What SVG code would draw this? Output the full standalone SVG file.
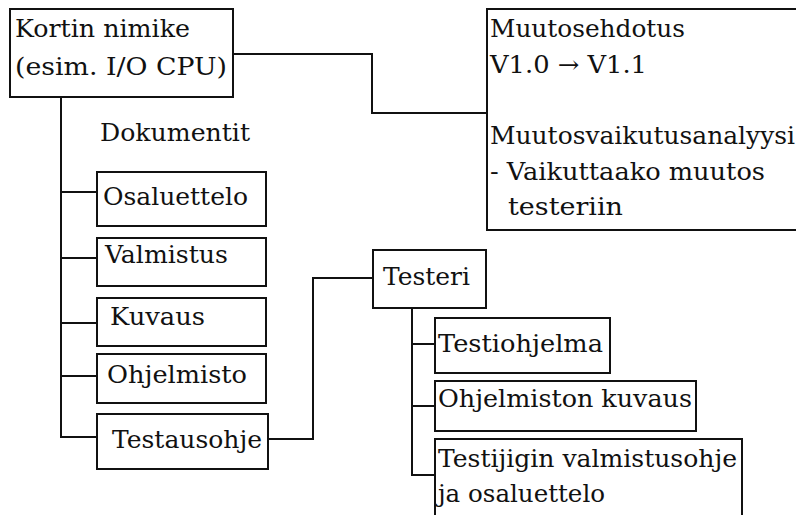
<svg xmlns="http://www.w3.org/2000/svg" width="796" height="515" viewBox="0 0 796 515">
<style>
rect{fill:#fff;stroke:#111;stroke-width:2}
.c{fill:none;stroke:#111;stroke-width:2}
text{font-family:"DejaVu Serif","Liberation Serif",serif;font-size:24px;fill:#111}
</style>
<rect x="0" y="0" width="796" height="515" style="stroke:none"/>
<g id="connectors">
<polyline class="c" points="233,54 372,54 372,113 487,113"/>
<polyline class="c" points="61,97 61,437 97,437"/>
<line class="c" x1="61" y1="192" x2="97" y2="192"/>
<line class="c" x1="61" y1="258" x2="97" y2="258"/>
<line class="c" x1="61" y1="323" x2="97" y2="323"/>
<line class="c" x1="61" y1="376" x2="97" y2="376"/>
<polyline class="c" points="268,439 313,439 313,278 373,278"/>
<polyline class="c" points="412,308 412,475 435,475"/>
<line class="c" x1="412" y1="344" x2="435" y2="344"/>
<line class="c" x1="412" y1="406" x2="435" y2="406"/>
</g>
<g id="kortin">
<rect x="10" y="9" width="223" height="88"/>
<text x="15" y="37" textLength="175" lengthAdjust="spacingAndGlyphs">Kortin nimike</text>
<text x="15" y="75" textLength="212" lengthAdjust="spacingAndGlyphs">(esim. I/O CPU)</text>
</g>
<g id="muutos">
<rect x="487" y="9" width="320" height="221"/>
<text x="490" y="37" textLength="195" lengthAdjust="spacingAndGlyphs">Muutosehdotus</text>
<text x="490" y="73" textLength="157" lengthAdjust="spacingAndGlyphs">V1.0 → V1.1</text>
<text x="490" y="144" textLength="305" lengthAdjust="spacingAndGlyphs">Muutosvaikutusanalyysi</text>
<text x="490" y="180" textLength="275" lengthAdjust="spacingAndGlyphs">- Vaikuttaako muutos</text>
<text x="508" y="215" textLength="115" lengthAdjust="spacingAndGlyphs">testeriin</text>
</g>
<g id="dokumentit">
<text x="100" y="141" textLength="150" lengthAdjust="spacingAndGlyphs">Dokumentit</text>
</g>
<g id="osaluettelo">
<rect x="97" y="172" width="169" height="54"/>
<text x="103" y="205" textLength="145" lengthAdjust="spacingAndGlyphs">Osaluettelo</text>
</g>
<g id="valmistus">
<rect x="97" y="238" width="169" height="48"/>
<text x="105" y="263" textLength="123" lengthAdjust="spacingAndGlyphs">Valmistus</text>
</g>
<g id="kuvaus">
<rect x="97" y="298" width="169" height="48"/>
<text x="110" y="325" textLength="95" lengthAdjust="spacingAndGlyphs">Kuvaus</text>
</g>
<g id="ohjelmisto">
<rect x="97" y="354" width="169" height="49"/>
<text x="107" y="383" textLength="140" lengthAdjust="spacingAndGlyphs">Ohjelmisto</text>
</g>
<g id="testausohje">
<rect x="97" y="414" width="171" height="55"/>
<text x="112" y="448" textLength="150" lengthAdjust="spacingAndGlyphs">Testausohje</text>
</g>
<g id="testeri">
<rect x="373" y="250" width="113" height="58"/>
<text x="383" y="285" textLength="87" lengthAdjust="spacingAndGlyphs">Testeri</text>
</g>
<g id="testiohjelma">
<rect x="435" y="318" width="175" height="55"/>
<text x="438" y="352" textLength="165" lengthAdjust="spacingAndGlyphs">Testiohjelma</text>
</g>
<g id="ohjelmistonkuvaus">
<rect x="435" y="381" width="261" height="50"/>
<text x="438" y="407" textLength="254" lengthAdjust="spacingAndGlyphs">Ohjelmiston kuvaus</text>
</g>
<g id="testijigin">
<rect x="435" y="439" width="307" height="90"/>
<text x="438" y="467" textLength="299" lengthAdjust="spacingAndGlyphs">Testijigin valmistusohje</text>
<text x="438" y="502" textLength="167" lengthAdjust="spacingAndGlyphs">ja osaluettelo</text>
</g>
</svg>
